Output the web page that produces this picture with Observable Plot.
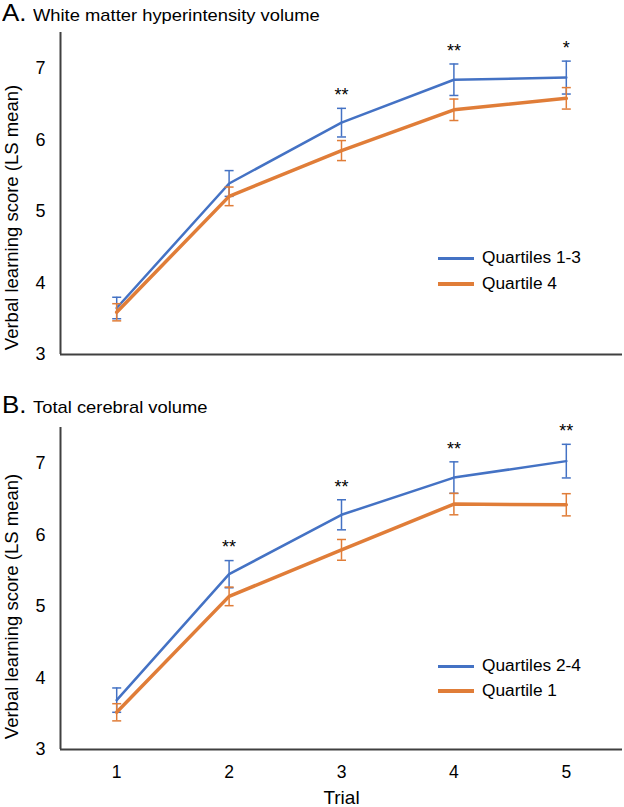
<!DOCTYPE html>
<html><head><meta charset="utf-8">
<script src="https://cdn.jsdelivr.net/npm/d3@7"></script>
<script src="https://cdn.jsdelivr.net/npm/@observablehq/plot@0.6"></script>
<style>
body{margin:0;background:#fff;font-family:"Liberation Sans",Arial,sans-serif;}
#wrap{position:relative;width:624px;height:807px;overflow:hidden;background:#fff;}
.abs{position:absolute;white-space:nowrap;line-height:1;color:#000;}
.sx{transform:scaleX(1.08);transform-origin:left center;}
</style></head><body><div id="wrap"></div>
<script>
// ---- data ----
const trials = [1, 2, 3, 4, 5];
const panelLetters = ["A.", "B."];
const panelTitles = ["White matter hyperintensity volume", "Total cerebral volume"];
const yLabel = "Verbal learning score (LS mean)";
const xLabel = "Trial";
const yTicks = [3, 4, 5, 6, 7];
const yDomain = [3, 7.5];
const xDomain = [0.5, 5.5];

const seriesA = ["Quartiles 1-3", "Quartile 4"];
const meanA1 = [3.65, 5.39, 6.24, 6.84, 6.87];
const errA1  = [0.15, 0.18, 0.20, 0.22, 0.23];
const meanA2 = [3.59, 5.21, 5.85, 6.42, 6.58];
const errA2  = [0.12, 0.13, 0.14, 0.15, 0.15];
const starsA = ["", "", "**", "**", "*"];

const seriesB = ["Quartiles 2-4", "Quartile 1"];
const meanB1 = [3.69, 5.45, 6.28, 6.80, 7.03];
const errB1  = [0.17, 0.19, 0.21, 0.22, 0.235];
const meanB2 = [3.52, 5.14, 5.79, 6.43, 6.42];
const errB2  = [0.12, 0.13, 0.145, 0.15, 0.155];
const starsB = ["", "**", "**", "**", "**"];

const colors = ["#4472C4", "#E07D38"];
const lineWidths = [2.5, 3.5];

// ---- drawing ----
const wrap = document.getElementById("wrap");
const capSymbol = {draw(ctx) { ctx.moveTo(-4.5, 0); ctx.lineTo(4.5, 0); }};
const font = "Liberation Sans, Arial, sans-serif";

function panel({m1, e1, m2, e2, stars, showX, top, height, marginTop, marginBottom, labelDy}) {
  const mk = (m, e) => trials.map((t, i) => ({trial: t, mean: m[i], lo: m[i] - e[i], hi: m[i] + e[i]}));
  const s1 = mk(m1, e1), s2 = mk(m2, e2);
  const starRows = trials.map((t, i) => ({trial: t, y: Math.max(s1[i].hi, s2[i].hi), label: stars[i]})).filter(d => d.label);
  const marks = [
    Plot.ruleY([yDomain[0]], {stroke: "#404040", strokeWidth: 2}),
    Plot.ruleX([xDomain[0]], {stroke: "#404040", strokeWidth: 2}),
    Plot.axisY(yTicks, {tickSize: 0, tickPadding: 15, fontSize: 18, label: null, tickFormat: d3.format("d")})
  ];
  if (showX) marks.push(Plot.axisX(trials, {tickSize: 0, tickPadding: 16, fontSize: 17.5, label: null, tickFormat: d3.format("d")}));
  [s1, s2].forEach((s, k) => {
    const c = colors[k];
    marks.push(Plot.ruleX(s, {x: "trial", y1: "lo", y2: "hi", stroke: c, strokeWidth: 1.5}));
    marks.push(Plot.dot(s, {x: "trial", y: "lo", symbol: capSymbol, r: 4.5, stroke: c, fill: "none", strokeWidth: 1.5}));
    marks.push(Plot.dot(s, {x: "trial", y: "hi", symbol: capSymbol, r: 4.5, stroke: c, fill: "none", strokeWidth: 1.5}));
    marks.push(Plot.line(s, {x: "trial", y: "mean", stroke: c, strokeWidth: lineWidths[k]}));
  });
  marks.push(Plot.text(starRows, {x: "trial", y: "y", text: "label", dy: -13, fontSize: 18, fill: "#000"}));
  marks.push(Plot.text([yLabel], {frameAnchor: "left", textAnchor: "middle", lineAnchor: "middle", rotate: -90, dx: -48, dy: labelDy, fontSize: 18.5, fill: "#000"}));
  if (showX) marks.push(Plot.text([xLabel], {frameAnchor: "bottom", textAnchor: "middle", lineAnchor: "middle", dy: 48, fontSize: 19, fill: "#000"}));
  const svg = Plot.plot({
    width: 624, height, marginLeft: 60, marginRight: 2, marginTop, marginBottom,
    style: {fontFamily: font, fontSize: "17px", color: "#000", background: "transparent", overflow: "visible"},
    x: {type: "linear", domain: xDomain, axis: showX ? undefined : null},
    y: {domain: yDomain},
    marks
  });
  svg.style.position = "absolute";
  svg.style.left = "0px";
  svg.style.top = top + "px";
  wrap.appendChild(svg);
}

// line-height 1: baseline sits at top + 0.8465em
function addText(txt, left, baseline, size, cls) {
  const d = document.createElement("div");
  d.className = "abs " + (cls || "");
  d.style.left = left + "px"; d.style.top = Math.max(0, baseline - 0.8465 * size) + "px"; d.style.fontSize = size + "px";
  d.textContent = txt;
  wrap.appendChild(d);
}
function addSwatch(left, center, w, h, color) {
  const d = document.createElement("div");
  d.className = "abs";
  d.style.left = left + "px"; d.style.top = (center - h / 2) + "px";
  d.style.width = w + "px"; d.style.height = h + "px"; d.style.background = color;
  wrap.appendChild(d);
}

panel({m1: meanA1, e1: errA1, m2: meanA2, e2: errA2, stars: starsA, showX: false,
       top: 0, height: 370, marginTop: 32, marginBottom: 16, labelDy: 24});
panel({m1: meanB1, e1: errB1, m2: meanB2, e2: errB2, stars: starsB, showX: true,
       top: 390, height: 417, marginTop: 37, marginBottom: 58, labelDy: 18});

// titles (baselines)
addText(panelLetters[0], 2, 21, 24, "sx");
addText(panelTitles[0], 33, 21, 17, "sx");
addText(panelLetters[1], 2, 413, 24, "sx");
addText(panelTitles[1], 33, 413, 17, "sx");

// legends (baseline = centre + 5.8)
const legends = [[seriesA, 258, 284], [seriesB, 666, 691]];
legends.forEach(([names, c1, c2]) => {
  [c1, c2].forEach((c, k) => {
    addSwatch(438, c, 36, k === 0 ? 3 : 4, colors[k]);
    addText(names[k], 482, c + 5.8, 16, "sx");
  });
});
</script></body></html>
